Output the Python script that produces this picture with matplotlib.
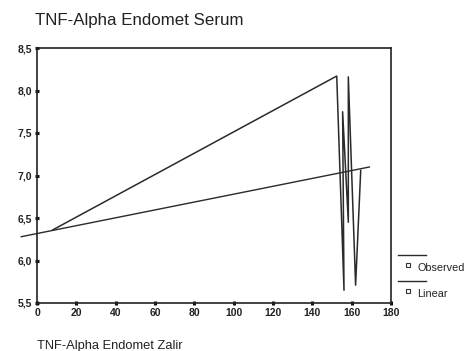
import matplotlib
matplotlib.use("Agg")
import matplotlib.pyplot as plt
from matplotlib.lines import Line2D

# Data
obs_x = [8, 152.4, 156.1, 155.4, 158.3, 158.3, 162.0, 164.6]
obs_y = [6.36, 8.17, 5.65, 7.75, 6.45, 8.16, 5.71, 7.06]
lin_x = [-8, 169]
lin_y = [6.28, 7.10]
x_ticks = [0, 20, 40, 60, 80, 100, 120, 140, 160, 180]
y_ticks = [5.5, 6.0, 6.5, 7.0, 7.5, 8.0, 8.5]
y_labels = ["5,5", "6,0", "6,5", "7,0", "7,5", "8,0", "8,5"]
title = "TNF-Alpha Endomet Serum"
xlabel = "TNF-Alpha Endomet Zalir"

plt.rcParams['font.family'] = ['Liberation Sans', 'DejaVu Sans']
fig = plt.figure(figsize=(4.65, 3.51), dpi=100)
fig.patch.set_facecolor('white')
ax = fig.add_axes([37/465, 1-303/351, (391-37)/465, (303-48)/351])

col = '#2a2a2a'
ax.plot(obs_x, obs_y, color=col, lw=1.1, clip_on=False)
ax.plot(lin_x, lin_y, color=col, lw=1.0, clip_on=False)

ax.set_xlim(0, 180)
ax.set_ylim(5.5, 8.5)
ax.set_xticks(x_ticks)
ax.set_xticklabels([str(t) for t in x_ticks], fontsize=7.5, color='#222')
ax.set_yticks(y_ticks)
ax.set_yticklabels(y_labels, fontsize=7.5, color='#222', fontweight='bold')
for lab in ax.get_xticklabels():
    lab.set_fontweight('bold')
ax.tick_params(direction='inout', length=3, width=2.2, color='#111', pad=2)
for s in ax.spines.values():
    s.set_color('#222')
    s.set_linewidth(1.2)

fig.text(35/465, 1-20/351, title, fontsize=12.2, ha='left', va='center', color='#222')
fig.text(37/465, 1-346/351, xlabel, fontsize=9.3, ha='left', va='center', color='#222')

# legend
leg_items = [("Observed", 255), ("Linear", 281)]
for name, yy in leg_items:
    fig.add_artist(Line2D([398/465, 426/465], [1-yy/351, 1-yy/351],
                          color=col, lw=1.0, transform=fig.transFigure))
    fig.add_artist(Line2D([408/465], [1-(yy+10)/351], marker='s', markersize=3.2,
                          markerfacecolor='white', markeredgecolor='#333',
                          markeredgewidth=0.8, transform=fig.transFigure))
    fig.text(417/465, 1-(yy+13)/351, name, fontsize=7.8, ha='left', va='center', color='#222')

fig.savefig("out.png", dpi=100)
